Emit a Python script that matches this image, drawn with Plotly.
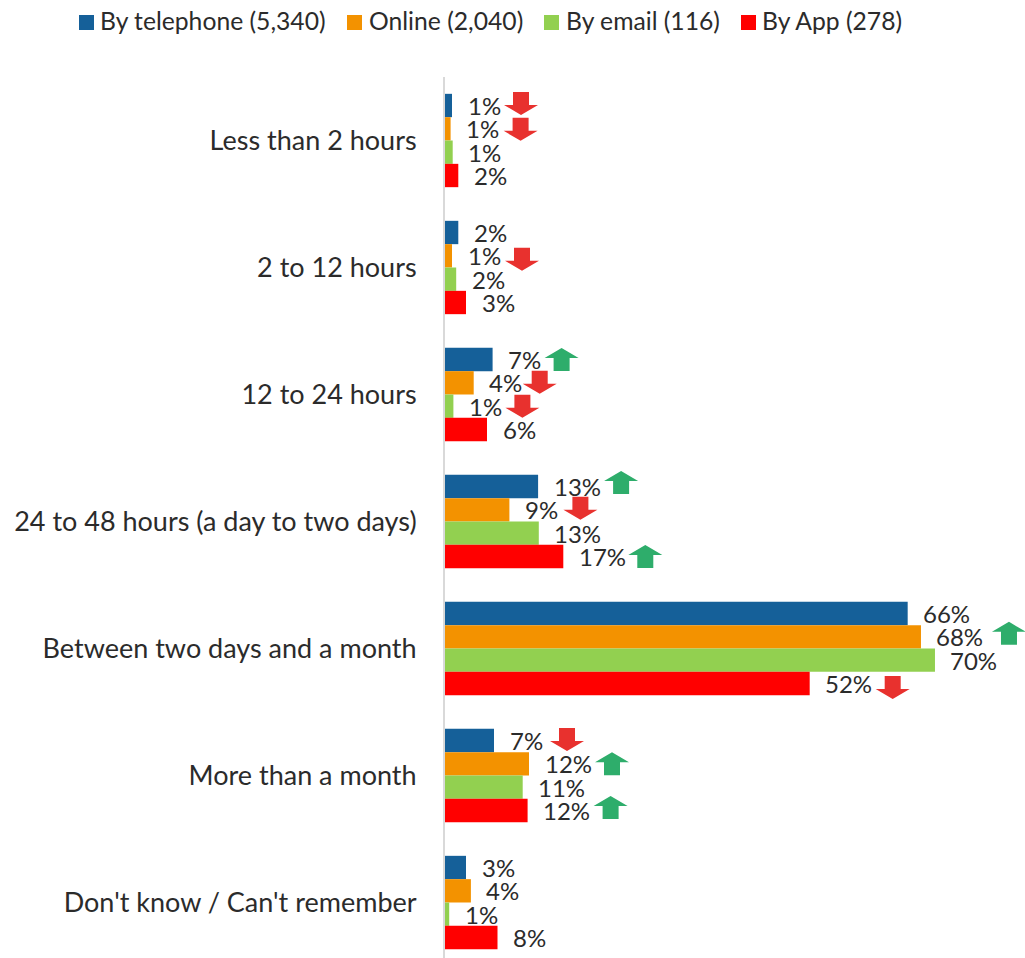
import plotly.graph_objects as go

categories = ["Less than 2 hours", "2 to 12 hours", "12 to 24 hours",
              "24 to 48 hours (a day to two days)", "Between two days and a month",
              "More than a month", "Don't know / Can't remember"]
series_names = ["By telephone (5,340)", "Online (2,040)", "By email (116)", "By App (278)"]
telephone = [1.0, 1.9, 6.8, 13.3, 66.1, 7.0, 3.0]
online = [0.8, 1.0, 4.1, 9.2, 68.0, 12.0, 3.7]
email = [1.1, 1.6, 1.2, 13.4, 70.0, 11.1, 0.6]
app = [1.9, 3.0, 6.0, 16.9, 52.1, 11.8, 7.5]
telephone_labels = ["1%", "2%", "7%", "13%", "66%", "7%", "3%"]
online_labels = ["1%", "1%", "4%", "9%", "68%", "12%", "4%"]
email_labels = ["1%", "2%", "1%", "13%", "70%", "11%", "1%"]
app_labels = ["2%", "3%", "6%", "17%", "52%", "12%", "8%"]
# significance: 1 = up, -1 = down, 0 = none
telephone_sig = [-1, 0, 1, 1, 0, -1, 0]
online_sig = [-1, -1, -1, -1, 1, 1, 0]
email_sig = [0, 0, -1, 0, 0, 0, 0]
app_sig = [0, 0, 0, 1, -1, 1, 0]

values = [telephone, online, email, app]
labels = [telephone_labels, online_labels, email_labels, app_labels]
sigs = [telephone_sig, online_sig, email_sig, app_sig]
colors = ["#156099", "#F39200", "#92D050", "#FF0000"]
UP, DOWN = "#2EAD6B", "#E8312E"
TEXT = "#2B2B2B"
FONT = "Lato"
BARGAP = 0.265
slot = (1 - BARGAP) / 4
ypos = list(range(len(categories)))

# pixel placement of each arrow relative to its bar end: (group, series): (dx, dy-down)
arrow_place = {(0, 0): (69, -2), (0, 1): (70, 0.5), (1, 1): (70, 3.5), (2, 0): (69, 0),
               (2, 1): (66, -0.5), (2, 2): (69, 0), (3, 0): (83, -4), (3, 1): (71, -1.5),
               (3, 3): (82, 0), (4, 1): (88, -3.5), (4, 3): (83, 4), (5, 0): (73, -1),
               (5, 1): (83, 0), (5, 3): (83, -3)}
# legend layout in pixels: square left edge, text left edge
legend_square_x = [79, 347, 544, 741]
legend_text_x = [100, 369, 566, 762]
W, H = 1025, 958

fig = go.Figure()
for name, vals, col in zip(series_names, values, colors):
    fig.add_trace(go.Bar(name=name, y=ypos, x=vals, orientation="h", marker_color=col,
                         marker_line_width=0, showlegend=False))

annotations, shapes = [], []
for j, (vals, labs, sg) in enumerate(zip(values, labels, sigs)):
    for i, (v, lab, s) in enumerate(zip(vals, labs, sg)):
        yc = i + (j - 1.5) * slot
        annotations.append(dict(x=v, y=yc, xref="x", yref="y", text=lab, showarrow=False,
                                xanchor="left", yanchor="middle", xshift=13.5,
                                font=dict(family=FONT, size=24, color=TEXT)))
        if s:
            dx, dy = arrow_place[(i, j)]
            cy = -dy  # shape pixel y grows upward
            tip = cy + s * 11.5
            shoulder = cy + s * 1.5
            end = cy - s * 11.5
            path = (f"M{dx},{tip} L{dx + 17},{shoulder} L{dx + 8},{shoulder} L{dx + 8},{end} "
                    f"L{dx - 8},{end} L{dx - 8},{shoulder} L{dx - 17},{shoulder} Z")
            shapes.append(dict(type="path", xref="x", yref="y", xsizemode="pixel",
                               ysizemode="pixel", xanchor=v, yanchor=yc, path=path,
                               fillcolor=UP if s > 0 else DOWN, line_width=0, layer="above"))

# legend row
for name, col, sx, tx in zip(series_names, colors, legend_square_x, legend_text_x):
    shapes.append(dict(type="rect", xref="paper", yref="paper", xsizemode="pixel",
                       ysizemode="pixel", xanchor=0, yanchor=1,
                       x0=sx - 445, x1=sx - 445 + 15, y0=77 - 15, y1=77 - 30,
                       fillcolor=col, line_width=0))
    annotations.append(dict(xref="paper", yref="paper", x=(tx - 445) / (W - 445),
                            y=1 + (77 - 20.5) / (H - 77), text=name, showarrow=False,
                            xanchor="left", yanchor="middle", borderpad=0, borderwidth=0,
                            font=dict(family=FONT, size=24.7, color=TEXT)))

fig.update_layout(
    width=W, height=H, margin=dict(l=445, r=0, t=77, b=0, autoexpand=False),
    paper_bgcolor="white", plot_bgcolor="white",
    barmode="group", bargap=BARGAP, bargroupgap=0, showlegend=False,
    font=dict(family=FONT, size=25, color=TEXT),
    annotations=annotations, shapes=shapes,
    xaxis=dict(range=[0, 82.86], visible=False, fixedrange=True),
    yaxis=dict(range=[6.437, -0.5], tickmode="array", tickvals=ypos, ticktext=categories,
               showgrid=False, zeroline=False, showline=True, linecolor="#D9D9D9", linewidth=2,
               ticks="", ticklabelstandoff=21, tickfont=dict(family=FONT, size=27, color=TEXT)),
)
fig.write_html("out.html", config={"displayModeBar": False},
               post_script="document.body.style.margin='0';")
